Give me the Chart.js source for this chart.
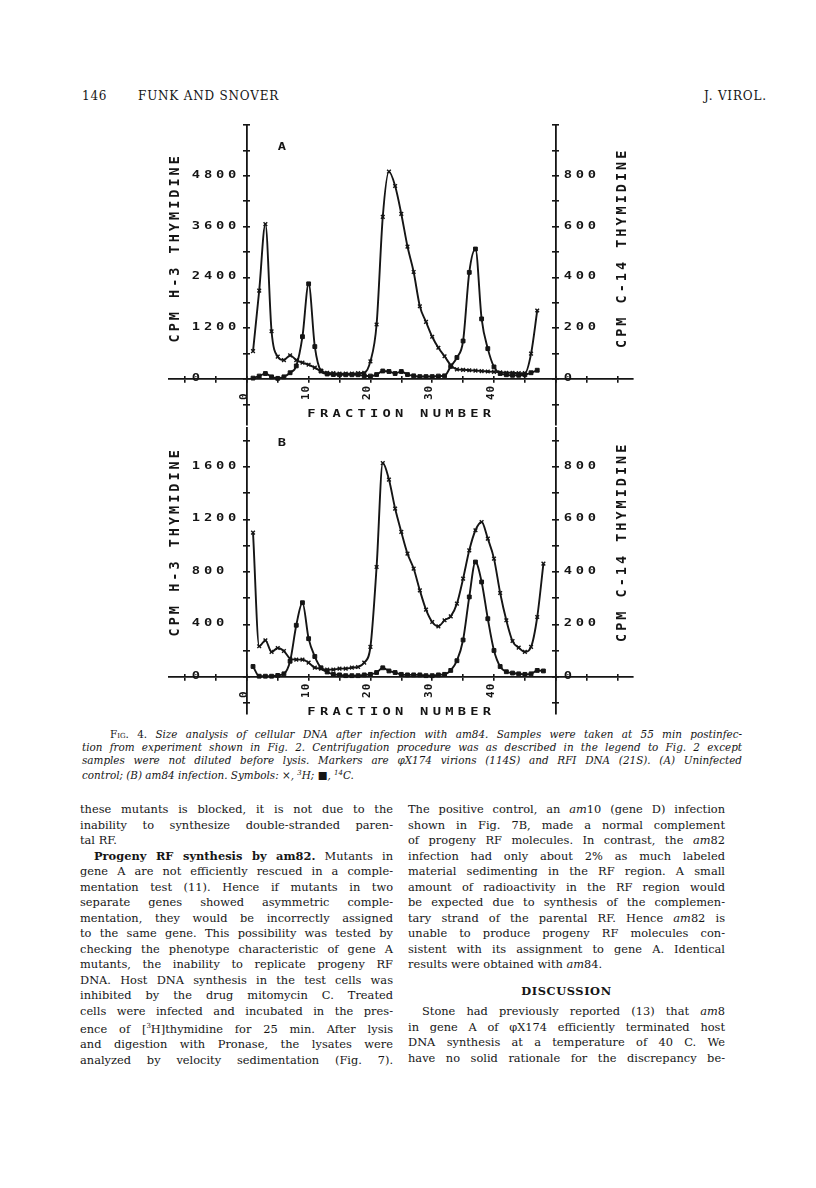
<!DOCTYPE html>
<html>
<head>
<meta charset="utf-8">
<title>Fig. 4 - Funk and Snover</title>
<script src="https://cdn.jsdelivr.net/npm/chart.js@4.4.1/dist/chart.umd.min.js"></script>
<style>
  html, body { margin: 0; padding: 0; background: #fff; }
  #page { position: relative; width: 816px; height: 1188px; overflow: hidden; font-family: "DejaVu Serif", serif; color: #161616; }
  .runhead { position: absolute; top: 89px; font-size: 12px; line-height: 14px; letter-spacing: 0.8px; }
  .panel { position: absolute; left: 140px; width: 520px; }
  .caption { position: absolute; left: 82px; width: 660px; top: 728px; font-size: 10.4px; line-height: 13px; font-style: italic; }
  .caption .fig { font-style: normal; font-variant: small-caps; }
  .col { position: absolute; top: 802px; font-size: 11.4px; line-height: 15.5px; }
  .col.left { left: 80px; width: 313px; }
  .col.right { left: 408px; width: 317px; }
  .ln { white-space: nowrap; text-align: justify; text-align-last: justify; }
  .ln.end { text-align-last: left; }
  .ln.ind { padding-left: 14px; }
  .ln.head { text-align: center; text-align-last: center; font-weight: bold; letter-spacing: 0.6px; margin: 11.5px 0 4.5px; }
  i { font-style: italic; }
</style>
</head>
<body>
<div id="page">
  <div class="runhead" style="left:82px">146</div>
  <div class="runhead" style="left:138px">FUNK AND SNOVER</div>
  <div class="runhead" style="left:704px">J. VIROL.</div>

  <div class="panel" style="top:110px;height:320px"><canvas id="chartA" width="520" height="320"></canvas></div>
  <div class="panel" style="top:420px;height:300px"><canvas id="chartB" width="520" height="300"></canvas></div>

  <div class="caption">
    <div class="ln" style="padding-left:28px"><span class="fig">Fig. 4.</span> Size analysis of cellular DNA after infection with am84. Samples were taken at 55 min postinfec-</div>
    <div class="ln">tion from experiment shown in Fig. 2. Centrifugation procedure was as described in the legend to Fig. 2 except</div>
    <div class="ln">samples were not diluted before lysis. Markers are &phi;X174 virions (114S) and RFI DNA (21S). (A) Uninfected</div>
    <div class="ln end">control; (B) am84 infection. Symbols: &times;, <sup style="font-size:7px">3</sup>H; &#9632;, <sup style="font-size:7px">14</sup>C.</div>
  </div>

  <div class="col left">
    <div class="ln">these mutants is blocked, it is not due to the</div>
    <div class="ln">inability to synthesize double-stranded paren-</div>
    <div class="ln end">tal RF.</div>
    <div class="ln ind"><b>Progeny RF synthesis by am82.</b> Mutants in</div>
    <div class="ln">gene A are not efficiently rescued in a comple-</div>
    <div class="ln">mentation test (11). Hence if mutants in two</div>
    <div class="ln">separate genes showed asymmetric comple-</div>
    <div class="ln">mentation, they would be incorrectly assigned</div>
    <div class="ln">to the same gene. This possibility was tested by</div>
    <div class="ln">checking the phenotype characteristic of gene A</div>
    <div class="ln">mutants, the inability to replicate progeny RF</div>
    <div class="ln">DNA. Host DNA synthesis in the test cells was</div>
    <div class="ln">inhibited by the drug mitomycin C. Treated</div>
    <div class="ln">cells were infected and incubated in the pres-</div>
    <div class="ln">ence of [<sup style="font-size:7px">3</sup>H]thymidine for 25 min. After lysis</div>
    <div class="ln">and digestion with Pronase, the lysates were</div>
    <div class="ln">analyzed by velocity sedimentation (Fig. 7).</div>
  </div>

  <div class="col right">
    <div class="ln">The positive control, an <i>am</i>10 (gene D) infection</div>
    <div class="ln">shown in Fig. 7B, made a normal complement</div>
    <div class="ln">of progeny RF molecules. In contrast, the <i>am</i>82</div>
    <div class="ln">infection had only about 2% as much labeled</div>
    <div class="ln">material sedimenting in the RF region. A small</div>
    <div class="ln">amount of radioactivity in the RF region would</div>
    <div class="ln">be expected due to synthesis of the complemen-</div>
    <div class="ln">tary strand of the parental RF. Hence <i>am</i>82 is</div>
    <div class="ln">unable to produce progeny RF molecules con-</div>
    <div class="ln">sistent with its assignment to gene A. Identical</div>
    <div class="ln end">results were obtained with <i>am</i>84.</div>
    <div class="ln head">DISCUSSION</div>
    <div class="ln ind">Stone had previously reported (13) that <i>am</i>8</div>
    <div class="ln">in gene A of &phi;X174 efficiently terminated host</div>
    <div class="ln">DNA synthesis at a temperature of 40 C. We</div>
    <div class="ln">have no solid rationale for the discrepancy be-</div>
  </div>
</div>

<script>
// fraction numbers
const fractionsA = [1, 2, 3, 4, 5, 6, 7, 8, 9, 10, 11, 12, 13, 14, 15, 16, 17, 18, 19, 20,
  21, 22, 23, 24, 25, 26, 27, 28, 29, 30, 31, 32, 33, 34, 35, 36, 37, 38, 39, 40,
  41, 42, 43, 44, 45, 46, 47];
const fractionsB = [1, 2, 3, 4, 5, 6, 7, 8, 9, 10, 11, 12, 13, 14, 15, 16, 17, 18, 19, 20,
  21, 22, 23, 24, 25, 26, 27, 28, 29, 30, 31, 32, 33, 34, 35, 36, 37, 38, 39, 40,
  41, 42, 43, 44, 45, 46, 47, 48];

// (A) uninfected control: CPM H-3 (left axis), CPM C-14 (right axis)
const h3A = [660, 2090, 3660, 1130, 530, 450, 560, 450, 390, 340, 270, 190, 150, 140, 130, 130, 130, 140, 150, 420,
  1290, 3830, 4900, 4560, 3900, 3130, 2530, 1720, 1350, 1000, 740, 540, 330, 230, 220, 210, 200, 190, 180, 170,
  160, 150, 150, 140, 140, 600, 1620];
const c14A = [4, 12, 22, 9, 3, 9, 25, 52, 167, 375, 128, 32, 20, 18, 17, 17, 17, 17, 13, 12,
  18, 32, 30, 22, 30, 18, 13, 10, 10, 10, 12, 13, 50, 85, 150, 420, 512, 237, 120, 48,
  22, 17, 15, 15, 17, 25, 35];

// (B) am84 infection
const h3B = [1100, 234, 279, 191, 221, 198, 140, 132, 132, 109, 71, 64, 56, 56, 64, 64, 71, 76, 110, 229,
  838, 1630, 1504, 1283, 1105, 940, 826, 660, 513, 419, 386, 432, 462, 559, 749, 965, 1118, 1181, 1054, 902,
  640, 432, 274, 224, 191, 229, 457, 864];
const c14B = [40, 3, 3, 3, 6, 12, 60, 197, 283, 146, 78, 35, 19, 10, 8, 5, 5, 5, 8, 10,
  17, 35, 23, 17, 10, 8, 8, 8, 5, 5, 8, 10, 25, 62, 141, 305, 438, 362, 222, 101,
  40, 20, 15, 12, 10, 12, 25, 23];

// axis ticks and labels
const xTicks = [-10, -5, 0, 5, 10, 15, 20, 25, 30, 35, 40, 45, 50, 55, 60];
const xLabels = [0, 10, 20, 30, 40];
const yTicksA = [-600, 0, 600, 1200, 1800, 2400, 3000, 3600, 4200, 4800, 5400, 6000];
const yLabelsA = [0, 1200, 2400, 3600, 4800];
const y2LabelsA = [0, 200, 400, 600, 800];
const yTicksB = [-200, 0, 200, 400, 600, 800, 1000, 1200, 1400, 1600, 1800];
const yLabelsB = [0, 400, 800, 1200, 1600];
const y2LabelsB = [0, 200, 400, 600, 800];

const INK = '#151515';
const PLOT_FONT = '"DejaVu Sans Mono", monospace';

// pen-plotter style lettering
function plotText(ctx, str, x, y, o) {
  ctx.save();
  ctx.translate(x, y);
  if (o.rotate) ctx.rotate(o.rotate);
  ctx.scale(o.sx || 1, 1);
  ctx.font = 'bold ' + o.size + 'px ' + PLOT_FONT;
  ctx.letterSpacing = (o.spacing || 0) + 'px';
  ctx.textAlign = o.align || 'left';
  ctx.textBaseline = 'alphabetic';
  ctx.fillStyle = INK;
  ctx.fillText(str, 0, 0);
  ctx.restore();
}

function plotterLabels(p) {
  return {
    id: 'plotterLabels',
    afterDraw(chart) {
      const { ctx, scales } = chart;
      const x = scales.x, y = scales.y, y2 = scales.y2;
      const x0 = x.getPixelForValue(0);
      const x50 = x.getPixelForValue(50);
      const base = y.getPixelForValue(0);
      const tickFont = { size: 11, sx: 1.25, spacing: 3 };

      p.yLabels.forEach(v => plotText(ctx, String(v), x0 - 55, y.getPixelForValue(v) + 2, tickFont));
      p.y2Labels.forEach(v => plotText(ctx, String(v), x50 + 8, y2.getPixelForValue(v) + 2, tickFont));
      xLabels.forEach(v => plotText(ctx, String(v), x.getPixelForValue(v), base + 21,
        { size: 11, spacing: 1, rotate: -Math.PI / 2 }));

      plotText(ctx, 'FRACTION NUMBER', x.getPixelForValue(25), base + 38,
        { size: 11, sx: 1.25, spacing: 3.4, align: 'center' });
      plotText(ctx, 'CPM H-3 THYMIDINE', x0 - 68, y.getPixelForValue(p.titleAt),
        { size: 13.5, spacing: 3, align: 'center', rotate: -Math.PI / 2 });
      plotText(ctx, 'CPM C-14 THYMIDINE', x50 + 70, y.getPixelForValue(p.titleAt),
        { size: 13.5, spacing: 3, align: 'center', rotate: -Math.PI / 2 });
      plotText(ctx, p.letter, x0 + 31, y.getPixelForValue(p.letterAt), tickFont);
    }
  };
}

function makePanel(canvasId, p) {
  const axisLine = { display: true, color: INK, width: 1.8 };
  const noLine = { display: false };
  // plotter ticks cross the axis: one scale draws the outer half, a twin draws the inner half
  const tickOut = { drawOnChartArea: false, drawTicks: true, tickLength: 3, color: INK, lineWidth: 1.6 };
  const tickIn = { drawOnChartArea: false, drawTicks: true, tickLength: -3, color: INK, lineWidth: 1.6 };
  const zeroW = s => { s.width = 0; };
  const zeroH = s => { s.height = 0; };

  const xAxis = (grid, border) => ({
    type: 'linear', min: -12.6, max: 62.5, position: { y: 0 },
    ticks: { display: false },
    afterBuildTicks: s => { s.ticks = xTicks.map(v => ({ value: v })); },
    afterFit: zeroH, grid, border
  });
  const yAxis = (div, at, grid, border) => ({
    type: 'linear', min: p.yMin / div, max: p.yMax / div, position: { x: at },
    ticks: { display: false },
    afterBuildTicks: s => { s.ticks = p.yTicks.map(v => ({ value: v / div })); },
    afterFit: zeroW, grid, border
  });

  return new Chart(document.getElementById(canvasId), {
    type: 'line',
    data: {
      datasets: [
        {
          label: 'H-3',
          data: p.fractions.map((f, i) => ({ x: f, y: p.h3[i] })),
          yAxisID: 'y',
          borderColor: INK,
          borderWidth: 1.9,
          cubicInterpolationMode: 'monotone',
          pointStyle: 'crossRot',
          pointRadius: 2.6,
          pointBorderWidth: 1.4,
          pointBorderColor: INK,
          fill: false
        },
        {
          label: 'C-14',
          data: p.fractions.map((f, i) => ({ x: f, y: p.c14[i] })),
          yAxisID: 'y2',
          borderColor: INK,
          borderWidth: 1.9,
          cubicInterpolationMode: 'monotone',
          pointStyle: 'rect',
          pointRadius: 2.7,
          pointBackgroundColor: INK,
          pointBorderColor: INK,
          pointBorderWidth: 1,
          fill: false
        }
      ]
    },
    options: {
      responsive: false,
      animation: false,
      devicePixelRatio: 1,
      layout: { padding: p.padding },
      plugins: { legend: { display: false }, tooltip: { enabled: false } },
      scales: {
        x: xAxis(tickOut, axisLine),
        xIn: xAxis(tickIn, noLine),
        y: yAxis(1, 0, tickOut, axisLine),
        yIn: yAxis(1, 0, tickIn, noLine),
        y2: yAxis(p.ratio, 50, tickOut, axisLine),
        y2In: yAxis(p.ratio, 50, tickIn, noLine)
      }
    },
    plugins: [plotterLabels(p)]
  });
}

makePanel('chartA', {
  fractions: fractionsA, h3: h3A, c14: c14A,
  yMin: -1074, yMax: 6000, ratio: 6, yTicks: yTicksA,
  yLabels: yLabelsA, y2Labels: y2LabelsA,
  padding: { left: 29, right: 27, top: 15, bottom: 2 },
  titleAt: 3100, letter: 'A', letterAt: 5400
});

makePanel('chartB', {
  fractions: fractionsB, h3: h3B, c14: c14B,
  yMin: -282, yMax: 1897, ratio: 2, yTicks: yTicksB,
  yLabels: yLabelsB, y2Labels: y2LabelsB,
  padding: { left: 29, right: 27, top: 8, bottom: 6 },
  titleAt: 1030, letter: 'B', letterAt: 1760
});
</script>
</body>
</html>
